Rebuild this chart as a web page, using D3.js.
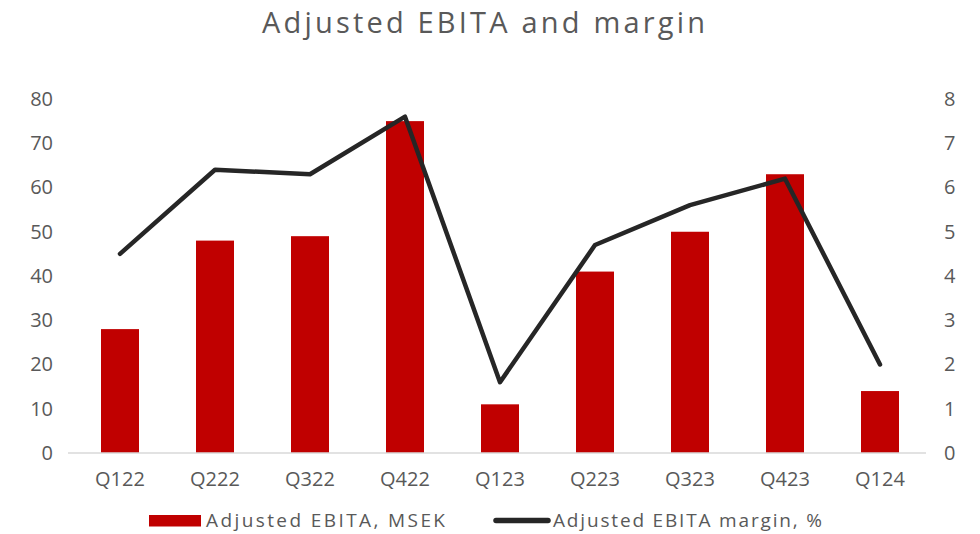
<!DOCTYPE html>
<html>
<head>
<meta charset="utf-8">
<script src="https://cdn.jsdelivr.net/npm/d3@7"></script>
<style>
  body { margin: 0; background: #fff; }
  text { font-family: "Open Sans", sans-serif; fill: #595959; }
</style>
</head>
<body>
<svg id="chart" width="980" height="534"></svg>
<script>
// chart data
const quarters = ['Q122', 'Q222', 'Q322', 'Q422', 'Q123', 'Q223', 'Q323', 'Q423', 'Q124'];
const ebita = [28, 48, 49, 75, 11, 41, 50, 63, 14];
const margin = [4.5, 6.4, 6.3, 7.6, 1.6, 4.7, 5.6, 6.2, 2.0];
const leftTicks = [0, 10, 20, 30, 40, 50, 60, 70, 80];
const rightTicks = [0, 1, 2, 3, 4, 5, 6, 7, 8];

const svg = d3.select('#chart');

const plot = { left: 72.5, right: 927.5, top: 99, bottom: 453 };

const x = d3.scaleBand()
    .domain(quarters)
    .range([plot.left, plot.right])
    .paddingInner(0.6)
    .paddingOuter(0.3);

const yLeft = d3.scaleLinear().domain([0, 80]).range([plot.bottom, plot.top]);
const yRight = d3.scaleLinear().domain([0, 8]).range([plot.bottom, plot.top]);

// title
svg.append('text')
    .attr('x', 262)
    .attr('y', 33)
    .attr('textLength', 443)
    .attr('lengthAdjust', 'spacing')
    .style('font-size', '29px')
    .text('Adjusted EBITA and margin');

// bars
svg.selectAll('rect.bar')
    .data(ebita)
    .enter()
    .append('rect')
    .attr('class', 'bar')
    .attr('x', (d, i) => x(quarters[i]))
    .attr('width', x.bandwidth())
    .attr('y', d => yLeft(d))
    .attr('height', d => yLeft(0) - yLeft(d))
    .style('fill', '#c00000');

// baseline
svg.append('line')
    .attr('x1', 68)
    .attr('x2', 926)
    .attr('y1', yLeft(0))
    .attr('y2', yLeft(0))
    .style('stroke', '#d9d9d9')
    .style('stroke-width', 1.5);

// margin line
const line = d3.line()
    .x((d, i) => x(quarters[i]) + x.bandwidth() / 2)
    .y(d => yRight(d));

svg.append('path')
    .datum(margin)
    .attr('d', line)
    .style('fill', 'none')
    .style('stroke', '#262626')
    .style('stroke-width', 4.5)
    .style('stroke-linecap', 'round')
    .style('stroke-linejoin', 'round');

function styleTicks(g, size)
{
    g.select('.domain').remove();
    g.selectAll('text')
        .style('font-size', size)
        .style('fill', '#595959')
        .style('font-family', '"Open Sans", sans-serif');
}

// left axis
const gl = svg.append('g')
    .attr('transform', 'translate(53,0)')
    .call(d3.axisLeft(yLeft).tickValues(leftTicks).tickSize(0).tickPadding(0));
styleTicks(gl, '20px');

// right axis
const gr = svg.append('g')
    .attr('transform', 'translate(944,0)')
    .call(d3.axisRight(yRight).tickValues(rightTicks).tickSize(0).tickPadding(0));
styleTicks(gr, '20px');

// category axis
const gb = svg.append('g')
    .attr('transform', 'translate(0,472)')
    .call(d3.axisBottom(x).tickSize(0).tickPadding(0));
styleTicks(gb, '20px');

// legend
const legend = svg.append('g');
legend.append('rect')
    .attr('x', 149)
    .attr('y', 515)
    .attr('width', 52)
    .attr('height', 11.5)
    .style('fill', '#c00000');
legend.append('text')
    .attr('x', 206)
    .attr('y', 527)
    .attr('textLength', 239)
    .attr('lengthAdjust', 'spacing')
    .style('font-size', '19px')
    .text('Adjusted EBITA, MSEK');
legend.append('line')
    .attr('x1', 496)
    .attr('x2', 548)
    .attr('y1', 520.5)
    .attr('y2', 520.5)
    .style('stroke', '#262626')
    .style('stroke-width', 5.5)
    .style('stroke-linecap', 'round');
legend.append('text')
    .attr('x', 553)
    .attr('y', 527)
    .attr('textLength', 269)
    .attr('lengthAdjust', 'spacing')
    .style('font-size', '19px')
    .text('Adjusted EBITA margin, %');
</script>
</body>
</html>
